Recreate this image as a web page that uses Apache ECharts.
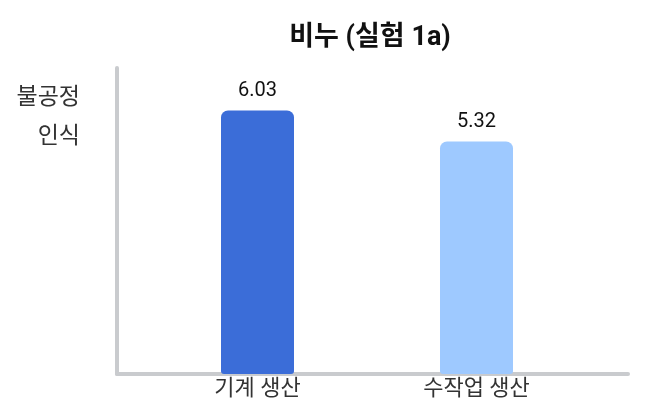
<!DOCTYPE html>
<html><head><meta charset="utf-8">
<script src="https://cdn.jsdelivr.net/npm/echarts@6/dist/echarts.min.js"></script>
<style>html,body{margin:0;padding:0;background:#fff}#c{width:659px;height:419px}</style>
</head><body><div id="c"></div>
<script>
const categories = ['기계 생산', '수작업 생산'];
const values = [6.03, 5.32];
const barColors = ['#3b6dd8', '#9ec9ff'];
const titleText = '비누 (실험 1a)';
const yNameLines = ['불공정', '인식'];

const font = 'Roboto, "Noto Sans CJK KR", sans-serif';
const chart = echarts.init(document.getElementById('c'), null, {renderer: 'canvas'});
chart.setOption({
  animation: false,
  backgroundColor: '#fff',
  title: {text: titleText, left: 365, textAlign: 'center', top: 20,
    textStyle: {fontFamily: font, fontSize: 27, fontWeight: 'bold', color: '#111'}},
  grid: [
    {left: 148, right: 73, top: 68, bottom: 45},
    {left: 117, right: 31, top: 68, bottom: 45}
  ],
  xAxis: [
    {type: 'category', data: categories, gridIndex: 0,
      axisLine: {show: false}, axisTick: {show: false},
      axisLabel: {margin: 4, fontFamily: font, fontSize: 22, color: '#333'}},
    {type: 'value', gridIndex: 1, min: 0, max: 1,
      axisLine: {show: true, lineStyle: {color: '#c9cbce', width: 4}},
      axisTick: {show: false}, axisLabel: {show: false}, splitLine: {show: false}}
  ],
  yAxis: [
    {type: 'value', gridIndex: 0, min: 0, max: 7,
      axisLine: {show: false}, axisTick: {show: false}, axisLabel: {show: false}, splitLine: {show: false}},
    {type: 'value', gridIndex: 1, min: 0, max: 1,
      axisLine: {show: true, lineStyle: {color: '#c9cbce', width: 4}},
      axisTick: {show: false}, axisLabel: {show: false}, splitLine: {show: false}}
  ],
  graphic: yNameLines.map((t, i) => ({
    type: 'text', x: 80, y: 98 + i * 39,
    style: {text: t, fontFamily: font, fontSize: 23, fill: '#333', align: 'right', verticalAlign: 'middle'}
  })),
  series: [{
    type: 'bar', xAxisIndex: 0, yAxisIndex: 0, barWidth: 73,
    data: values.map((v, i) => ({value: v, itemStyle: {color: barColors[i]}})),
    itemStyle: {borderRadius: [7, 7, 3, 3]},
    label: {show: true, position: 'top', distance: 9, fontFamily: font, fontSize: 20, color: '#111',
      formatter: p => p.value.toFixed(2)}
  }]
});
</script></body></html>
